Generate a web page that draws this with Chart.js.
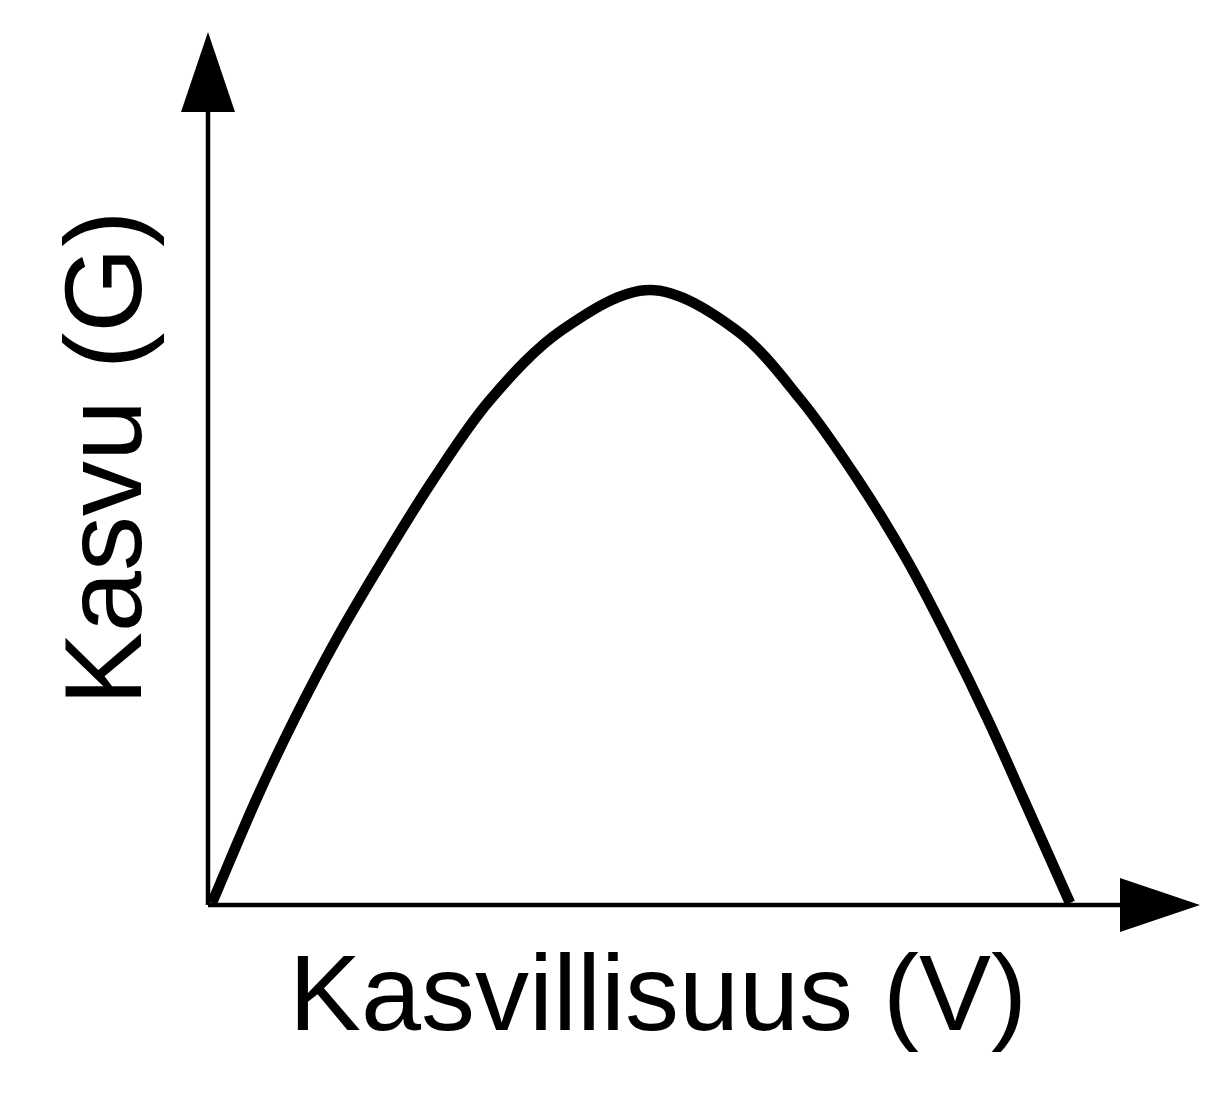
<!DOCTYPE html>
<html>
<head>
<meta charset="utf-8">
<script src="https://cdn.jsdelivr.net/npm/chart.js@4/dist/chart.umd.min.js"></script>
<style>
  html, body { margin: 0; padding: 0; background: #fff; }
  #wrap { width: 1232px; height: 1095px; position: relative; }
</style>
</head>
<body>
<div id="wrap"><canvas id="chart"></canvas></div>
<script>
// Kasvillisuus (V) vs. kasvu (G)
const vegetation = [0.04, 0.48, 0.86, 1.28, 1.75, 2.25, 2.82, 3.54, 4.42, 5.28, 5.93, 6.50, 6.99, 7.41, 7.80, 8.16, 8.62];
const growth     = [0.02, 1.05, 1.85, 2.65, 3.45, 4.25, 5.05, 5.75, 6.15, 5.75, 5.05, 4.25, 3.45, 2.65, 1.85, 1.05, 0.02];
const xTitle = "Kasvillisuus (V)";
const yTitle = "Kasvu (G)";

const points = vegetation.map((v, i) => ({ x: v, y: growth[i] }));

// axes with arrowheads + labels
const axesPlugin = {
    id: "arrowAxes",
    afterDatasetsDraw(chart) {
        const { ctx, chartArea: a } = chart;
        ctx.save();
        ctx.fillStyle = "#000";
        ctx.strokeStyle = "#000";
        ctx.lineWidth = 4.5;

        // y axis
        ctx.beginPath();
        ctx.moveTo(a.left, a.bottom);
        ctx.lineTo(a.left, a.top + 5);
        ctx.stroke();
        ctx.beginPath();
        ctx.moveTo(a.left - 27, a.top + 7);
        ctx.lineTo(a.left + 27, a.top + 7);
        ctx.lineTo(a.left, a.top - 73);
        ctx.closePath();
        ctx.fill();

        // x axis
        ctx.beginPath();
        ctx.moveTo(a.left, a.bottom);
        ctx.lineTo(a.right - 88, a.bottom);
        ctx.stroke();
        ctx.beginPath();
        ctx.moveTo(a.right - 88, a.bottom - 27);
        ctx.lineTo(a.right - 88, a.bottom + 27);
        ctx.lineTo(a.right - 8, a.bottom);
        ctx.closePath();
        ctx.fill();

        ctx.font = "108px 'Liberation Sans', Arial, sans-serif";
        ctx.textAlign = "center";
        ctx.textBaseline = "alphabetic";
        ctx.fillText(xTitle, 658, 1030);

        ctx.translate(141, 458);
        ctx.rotate(-Math.PI / 2);
        ctx.font = "110px 'Liberation Sans', Arial, sans-serif";
        ctx.fillText(yTitle, 0, 0);
        ctx.restore();
    }
};

new Chart(document.getElementById("chart"), {
    type: "line",
    data: {
        datasets: [{
            data: points,
            borderColor: "#000",
            borderWidth: 10.5,
            pointRadius: 0,
            fill: false,
            tension: 0.33,
            clip: false
        }]
    },
    options: {
        responsive: true,
        maintainAspectRatio: false,
        animation: false,
        layout: { padding: { left: 208, right: 24, top: 105, bottom: 190 } },
        scales: {
            x: { type: "linear", min: 0, max: 10, display: false },
            y: { type: "linear", min: 0, max: 8, display: false }
        },
        plugins: {
            legend: { display: false },
            tooltip: { enabled: false }
        }
    },
    plugins: [axesPlugin]
});
</script>
</body>
</html>
